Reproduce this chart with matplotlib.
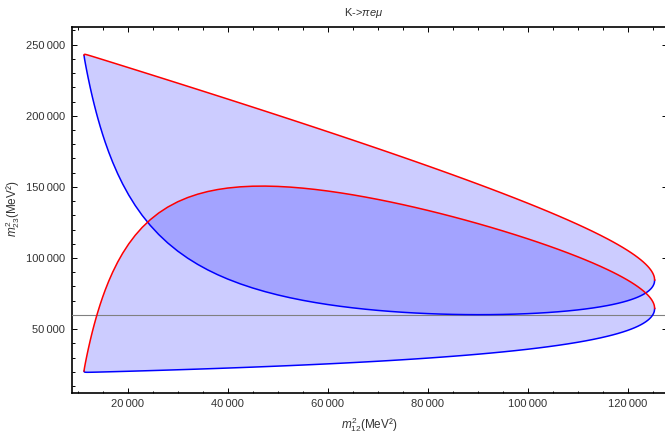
import matplotlib
matplotlib.use("Agg")
import matplotlib.pyplot as plt
from matplotlib.ticker import MultipleLocator, FuncFormatter

plt.rcParams["font.family"] = ["Liberation Sans", "DejaVu Sans"]
plt.rcParams["mathtext.fontset"] = "custom"
plt.rcParams["mathtext.rm"] = "Liberation Sans"
plt.rcParams["mathtext.it"] = "Liberation Sans:italic"

# m12^2 sample points (MeV^2)
m12sq = [11272, 11300, 11400, 11550, 11800, 12100, 12500, 12800, 13000, 13300,
         13700, 14000, 14500, 15000, 15500, 16200, 17000, 18000, 19000, 20200,
         21500, 22900, 24500, 26200, 28000, 30000, 32000, 34000, 36000, 38000,
         40000, 42500, 45000, 47500, 50000, 52500, 55000, 57500, 60000, 62500,
         65000, 67500, 70000, 72500, 75000, 77500, 80000, 82500, 85000, 87500,
         90000, 92500, 95000, 97500, 100000, 102000, 104000, 106000, 108000, 110000,
         111500, 113000, 114500, 116000, 117000, 118000, 119000, 119900, 120700, 121400,
         122000, 122600, 123100, 123600, 124000, 124300, 124600, 124800, 125000, 125130,
         125250, 125330, 125392]

# region with m23 = mu pi
mupi_max = [242634, 243066, 243212, 243150, 242935, 242635, 242216, 241896, 241681, 241357,
            240923, 240597, 240052, 239507, 238961, 238195, 237319, 236222, 235123, 233804,
            232372, 230828, 229060, 227178, 225182, 222959, 220730, 218496, 216255, 214009,
            211757, 208932, 206096, 203248, 200389, 197516, 194630, 191729, 188812, 185879,
            182927, 179957, 176966, 173952, 170915, 167851, 164758, 161634, 158475, 155277,
            152037, 148749, 145407, 142003, 138529, 135690, 132791, 129822, 126772, 123625,
            121189, 118676, 116069, 113349, 111458, 109492, 107435, 105485, 103655, 101958,
            100413, 98759, 97272, 95647, 94208, 93010, 91659, 90630, 89428, 88488,
            87396, 86381, 84466]
mupi_min = [242530, 241520, 239331, 236391, 231765, 226504, 219904, 215231, 212237, 207917,
            202456, 198566, 192445, 186736, 181399, 174487, 167291, 159208, 151987, 144280,
            136918, 129944, 122973, 116526, 110580, 104843, 99857, 95490, 91640, 88226,
            85185, 81829, 78893, 76312, 74037, 72025, 70245, 68667, 67269, 66034,
            64945, 63989, 63155, 62436, 61822, 61310, 60893, 60569, 60336, 60192,
            60137, 60174, 60304, 60532, 60864, 61212, 61639, 62154, 62766, 63492,
            64122, 64838, 65654, 66591, 67298, 68082, 68962, 69853, 70745, 71622,
            72466, 73419, 74324, 75366, 76341, 77190, 78191, 78989, 79958, 80748,
            81701, 82622, 84466]

# region with m23 = e pi
epi_max = [20558, 21541, 23630, 26419, 30796, 35756, 41957, 46330, 49124, 53143,
           58205, 61794, 67415, 72624, 77461, 83674, 90069, 97153, 103374, 109881,
           115942, 121516, 126887, 131635, 135781, 139517, 142504, 144871, 146721, 148135,
           149176, 150032, 150468, 150548, 150324, 149835, 149116, 148194, 147091, 145827,
           144416, 142872, 141205, 139425, 137538, 135551, 133467, 131291, 129025, 126669,
           124223, 121687, 119057, 116329, 113496, 111148, 108721, 106207, 103594, 100869,
           98739, 96523, 94207, 91769, 90063, 88278, 86399, 84608, 82916, 81338,
           79895, 78341, 76937, 75394, 74020, 72871, 71569, 70572, 69402, 68483,
           67410, 66408, 64503]
epi_min = [20454, 19994, 19748, 19661, 19626, 19625, 19645, 19665, 19680, 19704,
           19738, 19764, 19808, 19854, 19900, 19966, 20042, 20139, 20237, 20357,
           20489, 20633, 20800, 20982, 21179, 21402, 21631, 21865, 22105, 22351,
           22604, 22929, 23265, 23612, 23972, 24345, 24731, 25132, 25549, 25982,
           26433, 26904, 27395, 27908, 28446, 29010, 29603, 30227, 30886, 31583,
           32324, 33112, 33954, 34857, 35832, 36671, 37570, 38538, 39588, 40735,
           41671, 42685, 43792, 45012, 45902, 46868, 47926, 48975, 50006, 51002,
           51948, 53001, 53989, 55114, 56153, 57051, 58101, 58931, 59932, 60743,
           61715, 62649, 64503]

threshold = 60137  # (m_mu + m_pi)^2

fig = plt.figure(figsize=(6.65, 4.34), dpi=100)
ax = fig.add_axes([72 / 665, 1 - 393.3 / 434, 595 / 665, (393.3 - 26.7) / 434])

for top, bot in [(mupi_max, mupi_min), (epi_max, epi_min)]:
    ax.fill(m12sq + m12sq[::-1], top + bot[::-1], color=(0, 0, 1), alpha=0.2, lw=0)

ax.axhline(threshold, color="#808080", lw=0.8, zorder=3)
for bot in [mupi_min, epi_min]:
    ax.plot(m12sq, bot, color=(0, 0, 1), lw=1.1, zorder=4)
for top in [mupi_max, epi_max]:
    ax.plot(m12sq, top, color=(1, 0, 0), lw=1.1, zorder=5)

ax.set_xlim(8860, 127860)
ax.set_ylim(4856, 262624)

fmt = FuncFormatter(lambda v, p: f"{int(v):,}".replace(",", "\u2009"))
ax.xaxis.set_major_locator(MultipleLocator(20000))
ax.xaxis.set_minor_locator(MultipleLocator(5000))
ax.yaxis.set_major_locator(MultipleLocator(50000))
ax.yaxis.set_minor_locator(MultipleLocator(10000))
ax.xaxis.set_major_formatter(fmt)
ax.yaxis.set_major_formatter(fmt)
ax.tick_params(which="both", direction="in", top=True, right=True, width=0.7,
               labelsize=8, labelcolor="#333333")
ax.tick_params(which="major", length=3.6)
ax.tick_params(which="minor", length=1.8)
ax.tick_params(axis="x", pad=4)
ax.tick_params(axis="y", pad=5)
for sp in ax.spines.values():
    sp.set_linewidth(1.2)

fig.text(369 / 665, 1 - 425 / 434, r"$m_{12}^{2}$(MeV²)", ha="center", va="center",
         fontsize=8.5, color="#333333")
fig.text(13 / 665, 1 - 209 / 434, r"$m_{23}^{2}$(MeV²)", ha="center", va="center",
         rotation=90, fontsize=8.5, color="#333333")
fig.text(363.6 / 665, 1 - 12.7 / 434, r"K->$\pi e\mu$", ha="center", va="center",
         fontsize=8, color="#333333")

fig.savefig("out.png")
